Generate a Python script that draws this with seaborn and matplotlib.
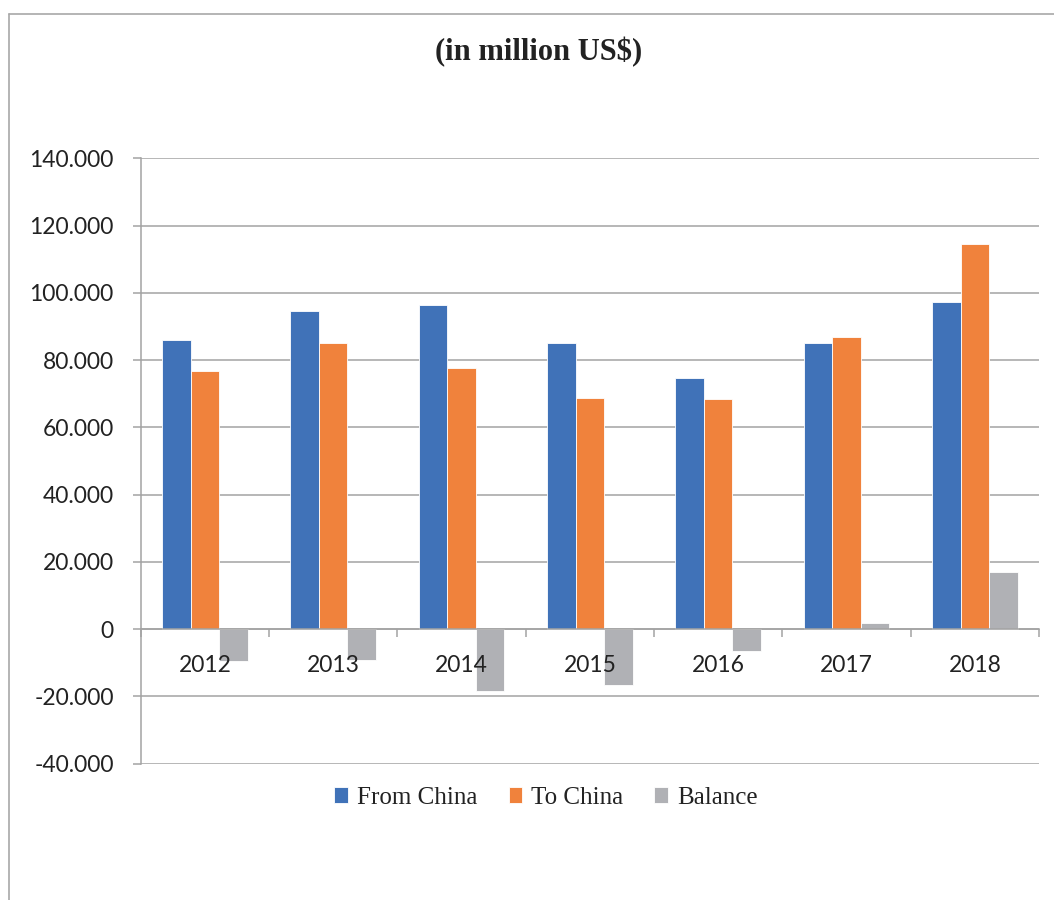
import matplotlib as mpl
import matplotlib.pyplot as plt
import pandas as pd
import seaborn as sns
from matplotlib.lines import Line2D

# Data (million US$)
YEARS = ["2012", "2013", "2014", "2015", "2016", "2017", "2018"]
FROM_CHINA = [86.1, 94.5, 96.5, 85.1, 74.8, 85.1, 97.2]
TO_CHINA = [76.6, 85.0, 77.7, 68.6, 68.4, 86.9, 114.4]
BALANCE = [-9.6, -9.3, -18.5, -16.5, -6.4, 1.7, 17.0]
SERIES = ["From China", "To China", "Balance"]

Y_TICKS = [-40, -20, 0, 20, 40, 60, 80, 100, 120, 140]
Y_TICK_LABELS = ["-40.000", "-20.000", "0", "20.000", "40.000", "60.000",
                 "80.000", "100.000", "120.000", "140.000"]
TITLE = "(in million US$)"

COLORS = ["#4072B8", "#F0823C", "#B0B1B5"]
GRID = "#A3A3A3"
TEXT = "#222222"


def build_frame() -> pd.DataFrame:
    rows = []
    for name, values in zip(SERIES, [FROM_CHINA, TO_CHINA, BALANCE]):
        for year, v in zip(YEARS, values):
            rows.append({"year": year, "series": name, "value": v})
    return pd.DataFrame(rows)


def main():
    sns.set_theme(style="white")
    plt.rcParams["font.family"] = ["Lato", "DejaVu Sans"]

    df = build_frame()

    fig = plt.figure(figsize=(10.54, 9.0), dpi=100)
    ax = fig.add_axes([0.1335, 0.1516, 0.8523, 0.6725])

    sns.barplot(
        data=df,
        x="year",
        y="value",
        hue="series",
        hue_order=SERIES,
        order=YEARS,
        palette=COLORS,
        saturation=1,
        width=0.667,
        edgecolor="white",
        linewidth=0.6,
        ax=ax,
    )

    # --- axes styling (Excel look) ---
    ax.set_xlim(-0.5, len(YEARS) - 0.5)
    ax.set_ylim(-40, 140)
    ax.set_yticks(Y_TICKS)
    ax.set_yticklabels(Y_TICK_LABELS)
    ax.set_xlabel("")
    ax.set_ylabel("")

    # gridlines drawn by hand under the bars; the axis itself goes on top so
    # the year labels sit over the negative bars like in Excel
    ax.grid(False)
    ax.set_axisbelow(False)
    for y in Y_TICKS:
        ax.axhline(y, color=GRID, linewidth=1.1, zorder=0.5)

    for side in ["top", "right"]:
        ax.spines[side].set_visible(False)
    ax.spines["left"].set_color(GRID)
    ax.spines["left"].set_linewidth(1.1)
    ax.spines["bottom"].set_position(("data", 0))
    ax.spines["bottom"].set_color(GRID)
    ax.spines["bottom"].set_linewidth(1.1)

    ax.tick_params(axis="y", which="major", left=True, length=6, width=1.1,
                   color=GRID, pad=13.5, labelsize=16.5, labelcolor=TEXT)
    ax.tick_params(axis="x", which="major", bottom=True, length=0, pad=18.5,
                   labelsize=16.5, labelcolor=TEXT)
    ax.set_xticks([i - 0.5 for i in range(len(YEARS) + 1)], minor=True)
    ax.tick_params(axis="x", which="minor", bottom=True, direction="out",
                   length=6, width=1.1, color=GRID)

    # --- legend ---
    handles, labels = ax.get_legend_handles_labels()
    ax.legend(
        handles,
        labels,
        loc="center",
        bbox_to_anchor=(0.518, 0.1135),
        bbox_transform=fig.transFigure,
        ncol=3,
        frameon=False,
        prop={"family": "Liberation Serif", "size": 18},
        handlelength=0.55,
        handleheight=0.55,
        handletextpad=0.35,
        columnspacing=1.25,
        labelcolor=TEXT,
    )

    # --- title and outer frame ---
    fig.text(0.511, 0.942, TITLE, ha="center", va="center",
             family="Liberation Serif", fontweight="bold", fontsize=22, color=TEXT)
    fig.add_artist(Line2D([0.009, 1.0], [0.984, 0.984], transform=fig.transFigure,
                          color="#A8A8A8", linewidth=1.2))
    fig.add_artist(Line2D([0.009, 0.009], [0.0, 0.984], transform=fig.transFigure,
                          color="#A8A8A8", linewidth=1.2))

    fig.savefig("out.png", dpi=100)


if __name__ == "__main__":
    main()
